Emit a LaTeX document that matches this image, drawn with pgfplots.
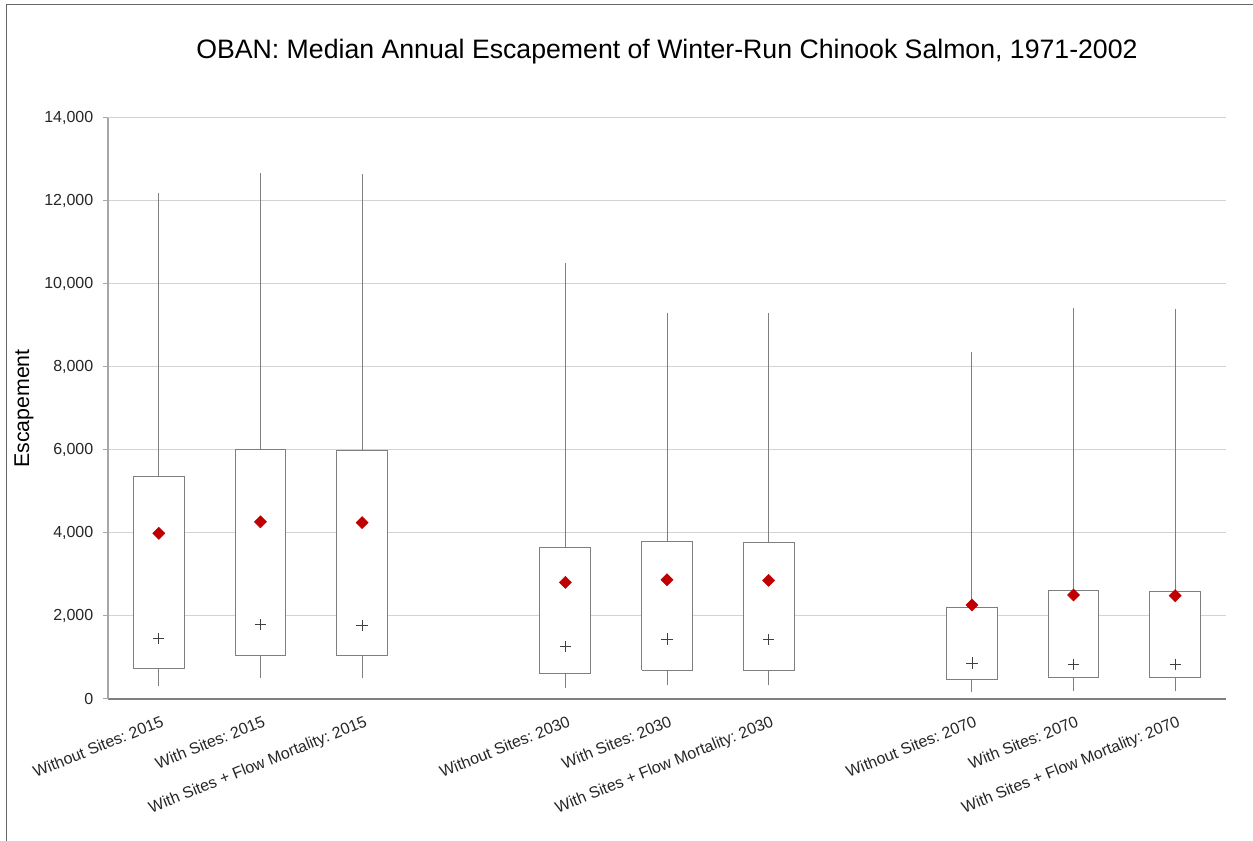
\documentclass[border=0pt]{standalone}
\usepackage{fontspec}
\setmainfont{Liberation Sans}
\usepackage{pgfplots}
\pgfplotsset{compat=1.18}
\definecolor{boxgray}{HTML}{7F7F7F}
\definecolor{gridgray}{HTML}{D3D3D3}
\definecolor{axgray}{HTML}{A6A6A6}
\definecolor{meanred}{HTML}{C00000}
\definecolor{medgray}{HTML}{404040}
\pgfplotsset{
  whisk/.style={boxgray, line width=0.75pt, mark=none},
  bx/.style={draw=boxgray, fill=white, line width=0.75pt, mark=none, line join=miter}
}
\frenchspacing
\begin{document}
\begin{tikzpicture}
\useasboundingbox (-81pt,-106.5pt) rectangle (858.75pt,524.25pt);
\draw[color=gray!80!black, line width=0.75pt] (-75.75pt,-106.5pt) -- (-75.75pt,520.5pt) -- (858.75pt,520.5pt);
\begin{axis}[
  scale only axis, width=838.5pt, height=435.75pt,
  xmin=-0.5, xmax=10.5, ymin=0, ymax=14000,
  axis x line*=bottom, axis y line*=left,
  x axis line style={draw=boxgray, line width=0.9pt},
  y axis line style={draw=axgray, line width=0.9pt},
  ymajorgrids, grid style={draw=gridgray, line width=0.75pt},
  ytick={0,2000,4000,6000,8000,10000,12000,14000},
  scaled y ticks=false,
  /pgf/number format/1000 sep={,},
  /pgf/number format/assume math mode=true,
  yticklabel style={font=\fontsize{12}{14}\selectfont, text=black!85, xshift=-3.75pt},
  tick align=outside, major tick length=3.75pt,
  ytick style={draw=axgray, line width=0.75pt},
  xtick style={draw=none},
  xtick={0,1,2,4,5,6,8,9,10},
  xticklabels={Without Sites: 2015, With Sites: 2015, With Sites + Flow Mortality: 2015,
               Without Sites: 2030, With Sites: 2030, With Sites + Flow Mortality: 2030,
               Without Sites: 2070, With Sites: 2070, With Sites + Flow Mortality: 2070},
  xticklabel style={rotate=22, anchor=north east, inner sep=1pt, xshift=-1pt, yshift=-7pt, font=\fontsize{12}{14}\selectfont\frenchspacing, text=black!85},
  ylabel={Escapement},
  ylabel style={at={(axis description cs:-0.0751,0.5)}, anchor=center, font=\fontsize{16}{19}\selectfont},
  title={OBAN: Median Annual Escapement of Winter-Run Chinook Salmon, 1971-2002},
  title style={at={(axis description cs:0.5,1)}, anchor=base, yshift=38.25pt, font=\fontsize{20}{24}\selectfont},
  clip=false,
]
% whiskers (lower whisker to upper whisker)
\addplot[whisk] coordinates {(0,314) (0,12196)};
\addplot[whisk] coordinates {(1,505) (1,12673)};
\addplot[whisk] coordinates {(2,505) (2,12644)};
\addplot[whisk] coordinates {(4,265) (4,10514)};
\addplot[whisk] coordinates {(5,329) (5,9310)};
\addplot[whisk] coordinates {(6,329) (6,9294)};
\addplot[whisk] coordinates {(8,169) (8,8360)};
\addplot[whisk] coordinates {(9,185) (9,9416)};
\addplot[whisk] coordinates {(10,185) (10,9400)};
% boxes (lower quartile to upper quartile)
\addplot[bx] coordinates {(-0.25,743) (0.25,743) (0.25,5364) (-0.25,5364) (-0.25,743)};
\addplot[bx] coordinates {(0.75,1058) (1.25,1058) (1.25,6012) (0.75,6012) (0.75,1058)};
\addplot[bx] coordinates {(1.75,1039) (2.25,1039) (2.25,5993) (1.75,5993) (1.75,1039)};
\addplot[bx] coordinates {(3.75,610) (4.25,610) (4.25,3660) (3.75,3660) (3.75,610)};
\addplot[bx] coordinates {(4.75,698) (5.25,698) (5.25,3788) (4.75,3788) (4.75,698)};
\addplot[bx] coordinates {(5.75,682) (6.25,682) (6.25,3772) (5.75,3772) (5.75,682)};
\addplot[bx] coordinates {(7.75,466) (8.25,466) (8.25,2193) (7.75,2193) (7.75,466)};
\addplot[bx] coordinates {(8.75,530) (9.25,530) (9.25,2618) (8.75,2618) (8.75,530)};
\addplot[bx] coordinates {(9.75,506) (10.25,506) (10.25,2594) (9.75,2594) (9.75,506)};
% medians (+)
\addplot[only marks, mark=+, mark size=4.2pt, mark options={draw=medgray, line width=0.6pt}] coordinates {
 (0,1458) (1,1791) (2,1772) (4,1268) (5,1445) (6,1429) (8,867) (9,835) (10,835)};
% means (diamond)
\addplot[only marks, mark=square*, mark size=3.2pt, mark options={rotate=45, fill=meanred, draw=meanred}] coordinates {
 (0,3992) (1,4269) (2,4250) (4,2809) (5,2873) (6,2857) (8,2265) (9,2506) (10,2490)};
\end{axis}
\end{tikzpicture}
\end{document}
